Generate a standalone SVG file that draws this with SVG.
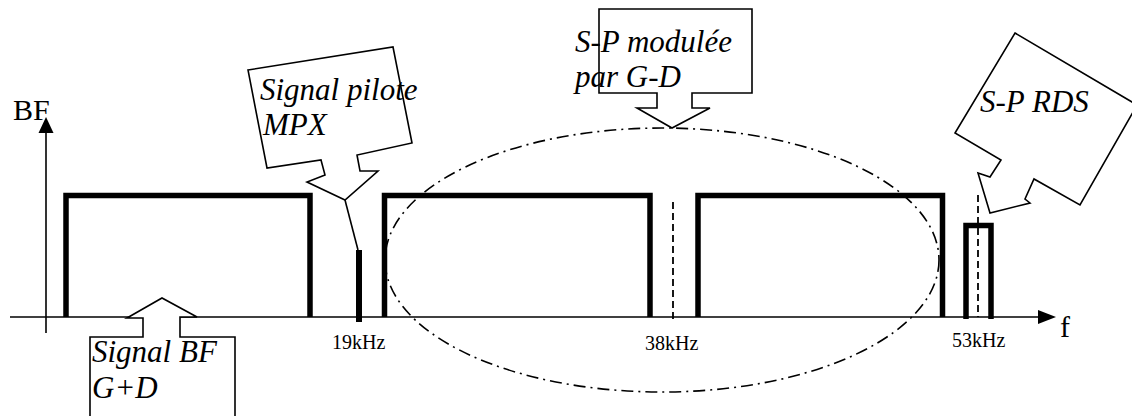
<svg xmlns="http://www.w3.org/2000/svg" width="1132" height="416" viewBox="0 0 1132 416">
<style>
.ax{stroke:#000;stroke-width:1.6;fill:none}
.sp{stroke:#000;stroke-width:5.5;fill:none;stroke-linejoin:miter}
.co{stroke:#000;stroke-width:1.6;fill:#fff;stroke-linejoin:miter}
.lbl{font-family:"Liberation Serif","Times New Roman",serif;font-size:20px;fill:#000}
.big{font-family:"Liberation Serif","Times New Roman",serif;font-size:30px;fill:#000}
.it{font-family:"Liberation Serif","Times New Roman",serif;font-size:31px;font-style:italic;fill:#000}
.dash{stroke:#000;stroke-width:1.8;stroke-dasharray:7 4;fill:none}
.ell{stroke:#000;stroke-width:1.6;fill:none;stroke-dasharray:12 5 2 5}
</style>
<rect width="1132" height="416" fill="#fff"/>
<g id="axes">
<line class="ax" x1="10" y1="317" x2="1040" y2="317"/>
<polygon points="1038,310 1056,317 1038,324" fill="#000"/>
<line class="ax" x1="46" y1="333" x2="46" y2="130"/>
<polygon points="38.5,133 46,117 53.5,133" fill="#000"/>
<text class="big" x="13" y="120">BF</text>
<text class="big" x="1060" y="337">f</text>
</g>
<g id="ellipse-groupe">
<ellipse class="ell" cx="662" cy="260" rx="277" ry="132"/>
</g>
<g id="spectre-bf">
<path class="sp" d="M66,317 V195.5 H310 V317"/>
</g>
<g id="pilote-19k">
<line x1="359" y1="250" x2="359" y2="322" stroke="#000" stroke-width="6"/>
<text class="lbl" x="332" y="349">19kHz</text>
</g>
<g id="bande-inf">
<path class="sp" d="M384.5,317 V195.5 H650 V317"/>
</g>
<g id="porteuse-38k">
<line class="dash" x1="673" y1="202" x2="673" y2="321"/>
<text class="lbl" x="645" y="350">38kHz</text>
</g>
<g id="bande-sup">
<path class="sp" d="M698,317 V195.5 H942.5 V317"/>
</g>
<g id="rds-57k">
<path class="sp" d="M966,319 V225.5 H991 V319"/>
<line class="dash" x1="978" y1="195" x2="978" y2="317"/>
<text class="lbl" x="952" y="347">53kHz</text>
</g>
<g id="connectors">
<line class="ax" x1="345" y1="200" x2="358" y2="250"/>
</g>
<g id="callout-signal-bf">
<path class="co" d="M90,420 V337 H143 V318 H127 L162,298 L197,317 H180 V337 H235 V420"/>
<text class="it" x="92" y="362">Signal BF</text>
<text class="it" x="92" y="398">G+D</text>
</g>
<g id="callout-pilote">
<path class="co" d="M248,70 L393,47 L412,143 L357,155 L360,171 L378,171 L345,200 L307,182 L325,175 L321,160 L267,168 Z"/>
<text class="it" x="260" y="100">Signal pilote</text>
<text class="it" x="263" y="135">MPX</text>
</g>
<g id="callout-sp-modulee">
<path class="co" d="M599,9 H752 V93 H692 V108 H710 L672,128 L637,108 H657 V93 H599 Z"/>
<text class="it" x="575" y="52">S-P modulée</text>
<text class="it" x="575" y="87">par G-D</text>
</g>
<g id="callout-sp-rds">
<path class="co" d="M1015,33 L1137,105 L1080,205 L1034,179 L1025,199 L1030,203 L990,213 L978,173 L990,177 L1001,160 L955,133 Z"/>
<text class="it" x="980" y="112">S-P RDS</text>
</g>
</svg>
